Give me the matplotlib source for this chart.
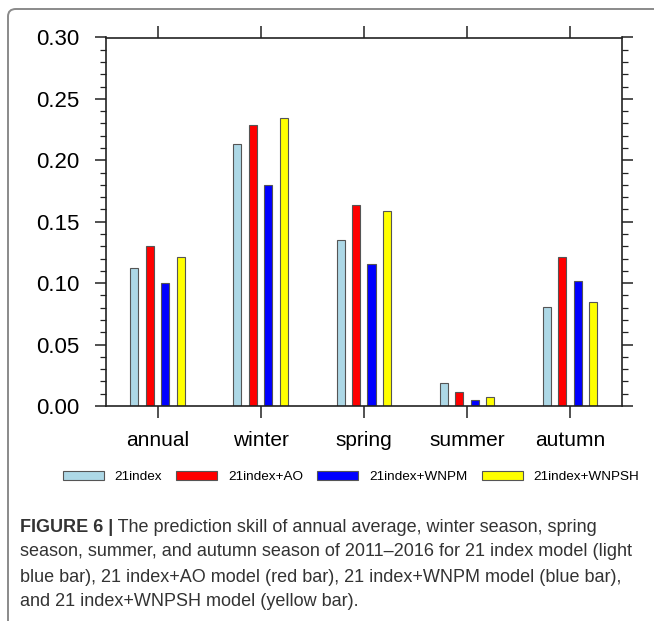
import matplotlib
matplotlib.use("Agg")
import matplotlib.pyplot as plt
import numpy as np
from matplotlib.ticker import MultipleLocator, FormatStrFormatter
from matplotlib.patches import Patch, FancyBboxPatch

plt.rcParams['font.family'] = ['Liberation Sans', 'DejaVu Sans']

# data
seasons = ['annual', 'winter', 'spring', 'summer', 'autumn']
idx21 = [0.112, 0.213, 0.135, 0.0185, 0.081]
idx21_ao = [0.130, 0.229, 0.164, 0.011, 0.121]
idx21_wnpm = [0.100, 0.180, 0.116, 0.005, 0.102]
idx21_wnpsh = [0.121, 0.2345, 0.1585, 0.0075, 0.0845]
series_names = ['21index', '21index+AO', '21index+WNPM', '21index+WNPSH']
series_colors = ['#add8e6', '#ff0000', '#0000ff', '#ffff00']

caption_bold = 'FIGURE 6 |'
caption_lines = [
    ' The prediction skill of annual average, winter season, spring',
    'season, summer, and autumn season of 2011\u20132016 for 21 index model (light',
    'blue bar), 21 index+AO model (red bar), 21 index+WNPM model (blue bar),',
    'and 21 index+WNPSH model (yellow bar).',
]

W, H = 654, 621
fig = plt.figure(figsize=(W / 100, H / 100), dpi=100)
ax = fig.add_axes([106 / W, 1 - 406 / H, 515.5 / W, 368.5 / H])

x = np.arange(len(seasons))
offsets = [-0.225, -0.075, 0.075, 0.225]
all_vals = [idx21, idx21_ao, idx21_wnpm, idx21_wnpsh]
for vals, off, col in zip(all_vals, offsets, series_colors):
    ax.bar(x + off, vals, width=0.078, color=col, edgecolor='#555555', linewidth=0.8)

ax.set_xlim(-0.5, 4.5)
ax.set_ylim(0, 0.30)
ax.set_xticks(x)
ax.set_xticklabels(seasons, fontsize=15)
ax.yaxis.set_major_locator(MultipleLocator(0.05))
ax.yaxis.set_minor_locator(MultipleLocator(0.01))
ax.yaxis.set_major_formatter(FormatStrFormatter('%.2f'))
ax.tick_params(axis='both', which='both', direction='out', top=True, right=True,
               color='#222222', width=1.1)
ax.tick_params(axis='x', which='major', length=8.5, pad=9.5, labeltop=False)
ax.tick_params(axis='y', which='major', length=8, pad=11, labelsize=16)
ax.tick_params(axis='y', which='minor', length=4, width=0.9)
for sp in ax.spines.values():
    sp.set_linewidth(1.2)
    sp.set_color('#222222')

handles = [Patch(facecolor=c, edgecolor='#555555', linewidth=0.8) for c in series_colors]
fig.legend(handles, series_names, loc='center', bbox_to_anchor=(351 / W, 1 - 477 / H),
           ncol=4, frameon=False, fontsize=9.7, handlelength=3.05, handleheight=0.65,
           handletextpad=0.8, columnspacing=1.05)

# outer frame (left and top edges visible, rounded corner)
frame = FancyBboxPatch((8 / W, -0.1), 1.2, 1.1 - 9 / H,
                       boxstyle='round,pad=0,rounding_size=0.012',
                       transform=fig.transFigure, facecolor='none',
                       edgecolor='#8a8a8a', linewidth=1.4, clip_on=False)
fig.patches.append(frame)

# caption
cap_fs = 13.0
cap_col = '#333333'
line_y = [527, 552, 577, 601]
fig.canvas.draw()
renderer = fig.canvas.get_renderer()
tb = fig.text(20 / W, 1 - line_y[0] / H, caption_bold, fontsize=cap_fs, fontweight='bold',
              color=cap_col, va='center', ha='left')
bb = tb.get_window_extent(renderer=renderer)
fig.text(bb.x1 / W, 1 - line_y[0] / H, caption_lines[0], fontsize=cap_fs,
         color=cap_col, va='center', ha='left')
for yy, txt in zip(line_y[1:], caption_lines[1:]):
    fig.text(20 / W, 1 - yy / H, txt, fontsize=cap_fs, color=cap_col,
             va='center', ha='left')

fig.savefig('out.png', dpi=100)
